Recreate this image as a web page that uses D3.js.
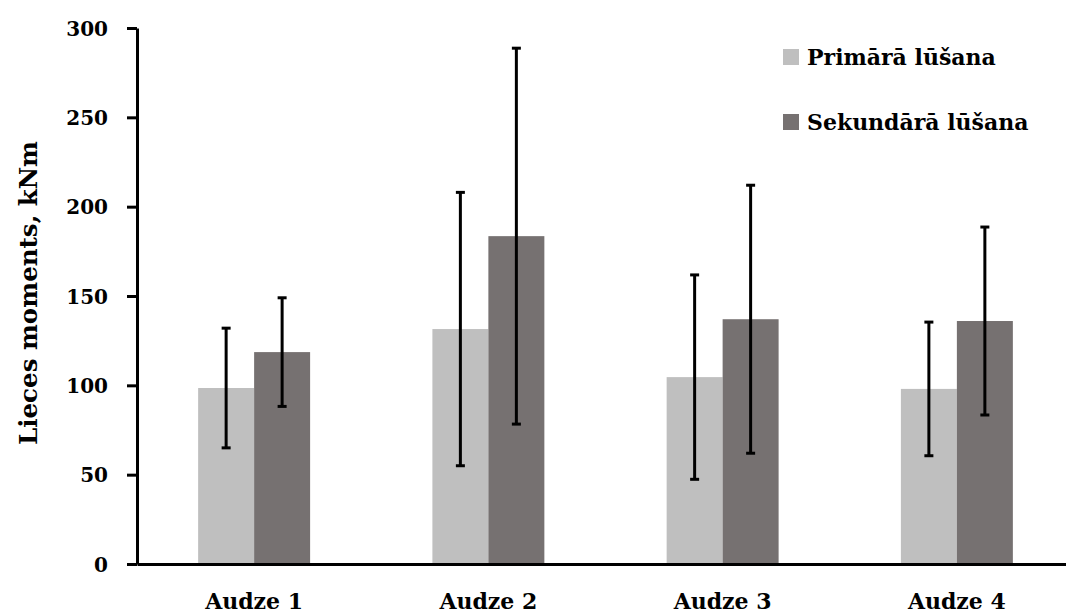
<!DOCTYPE html>
<html>
<head>
<meta charset="utf-8">
<script src="https://cdn.jsdelivr.net/npm/d3@7/dist/d3.min.js"></script>
<style>
  html, body { margin: 0; padding: 0; background: #fff; }
  svg { display: block; }
  text { font-family: "DejaVu Serif", "Liberation Serif", serif; font-weight: bold; fill: #000; }
</style>
</head>
<body>
<svg id="chart" width="1066" height="616"></svg>
<script>
// Stand labels and bending-moment means with their error ranges (kNm)
const categories = ["Audze 1", "Audze 2", "Audze 3", "Audze 4"];
const seriesNames = ["Primārā lūšana", "Sekundārā lūšana"];
const primaryMean = [98.5, 131.5, 104.6, 98];
const primaryErr = [33.5, 76.5, 57.2, 37.4];
const secondaryMean = [118.6, 183.5, 137, 136];
const secondaryErr = [30.4, 105.2, 75, 52.6];
const yTicks = [0, 50, 100, 150, 200, 250, 300];
const colors = ["#bfbfbf", "#767171"];

const svg = d3.select("#chart");
const margin = { left: 137, top: 28, bottom: 564, right: 1074 };

const y = d3.scaleLinear().domain([0, 300]).range([margin.bottom, margin.top]);
const x0 = d3.scaleBand().domain(categories)
  .range([margin.left, margin.right])
  .paddingInner(0.522).paddingOuter(0.261);
const x1 = d3.scaleBand().domain(seriesNames).range([0, x0.bandwidth()]);

const rows = categories.map((c, i) => ({
  cat: c,
  vals: [
    { s: seriesNames[0], v: primaryMean[i], e: primaryErr[i] },
    { s: seriesNames[1], v: secondaryMean[i], e: secondaryErr[i] }
  ]
}));

// Bars
const groups = svg.append("g").selectAll("g").data(rows).join("g")
  .attr("transform", d => `translate(${x0(d.cat)},0)`);
groups.selectAll("rect").data(d => d.vals).join("rect")
  .attr("x", d => x1(d.s))
  .attr("width", x1.bandwidth())
  .attr("y", d => y(d.v))
  .attr("height", d => y(0) - y(d.v))
  .attr("fill", (d, i) => colors[i]);

// Error bars
const capW = 9;
groups.selectAll("g.err").data(d => d.vals).join("g").attr("class", "err")
  .each(function(d) {
    const g = d3.select(this);
    const cx = x1(d.s) + x1.bandwidth() / 2;
    g.append("line").attr("x1", cx).attr("x2", cx)
      .attr("y1", y(d.v + d.e)).attr("y2", y(d.v - d.e))
      .attr("stroke", "#000").attr("stroke-width", 3);
    [d.v + d.e, d.v - d.e].forEach(val => {
      g.append("line").attr("x1", cx - capW / 2).attr("x2", cx + capW / 2)
        .attr("y1", y(val)).attr("y2", y(val))
        .attr("stroke", "#000").attr("stroke-width", 3);
    });
  });

// Y axis
const yAxis = svg.append("g").attr("transform", `translate(${margin.left},0)`)
  .call(d3.axisLeft(y).tickValues(yTicks).tickSize(10).tickPadding(19).tickSizeOuter(0));
yAxis.select(".domain").attr("stroke", "#000").attr("stroke-width", 3);
yAxis.selectAll(".tick line").attr("stroke", "#000").attr("stroke-width", 3);
yAxis.selectAll(".tick text").style("font-size", "20px").attr("dy", "0.35em");

// X axis
const xAxis = svg.append("g").attr("transform", `translate(0,${margin.bottom})`)
  .call(d3.axisBottom(x0).tickSize(0).tickPadding(29));
xAxis.select(".domain").attr("stroke", "#000").attr("stroke-width", 3);
xAxis.selectAll(".tick text").style("font-size", "22px").attr("dy", "0.71em");

// Y axis title
svg.append("text")
  .attr("transform", "translate(37,293) rotate(-90)")
  .attr("text-anchor", "middle")
  .style("font-size", "24.5px")
  .text("Lieces moments, kNm");

// Legend
const legend = svg.append("g");
seriesNames.forEach((name, i) => {
  const ly = 57 + i * 65;
  legend.append("rect").attr("x", 783).attr("y", ly - 8).attr("width", 16).attr("height", 16)
    .attr("fill", colors[i]);
  legend.append("text").attr("x", 807).attr("y", ly).attr("dy", "0.35em")
    .style("font-size", "22px").text(name);
});
</script>
</body>
</html>
